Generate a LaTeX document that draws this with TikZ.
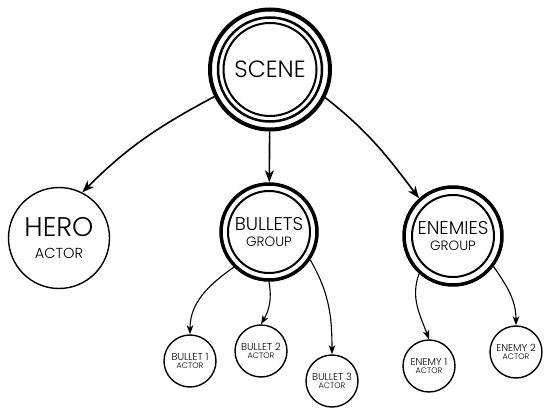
\documentclass[tikz,border=0pt]{standalone}
\usepackage{fontspec}
\IfFontExistsTF{Poppins Light}{\setmainfont{Poppins Light}}{\setmainfont{Poppins}}
\usetikzlibrary{arrows.meta}
\tikzstyle{arrow} = [line width=1.6pt, ->, >={Stealth[length=12pt, width=9pt, inset=3.5pt]}]
\tikzstyle{subarrow} = [line width=1.1pt, ->, >={Stealth[length=9pt, width=6.5pt, inset=2.5pt]}]
\newcommand{\kind}[2]{{\fontsize{#1}{#1}\selectfont #2}}

\begin{document}
\begin{tikzpicture}[x=1pt, y=1pt,
            actor/.style={circle, draw=black, line width=1.4pt, inner sep=0pt, align=center},
            group/.style={circle, draw=black, line width=3.5pt, inner sep=0pt, align=center, minimum size=96pt, font=\fontsize{18.5}{16.7}\selectfont},
            small/.style={actor, minimum size=52pt, font=\fontsize{10}{8.5}\selectfont}]
            \useasboundingbox (0,0) rectangle (552,413);

            % Scene root
            \node[circle, draw=black, line width=4pt, minimum size=120pt, inner sep=0pt, font=\fontsize{23.5}{23.5}\selectfont] (scene) at (270,343.5) {SCENE};
            \draw[line width=2.5pt] (scene.center) circle (52);
            \draw[line width=2pt] (scene.center) circle (46.5);

            % Children of the scene
            \node[actor, minimum size=101pt, font=\fontsize{27}{23.4}\selectfont] (hero) at (59,175) {HERO\\[-1pt]\kind{14.5}{ACTOR}};
            \node[group] (bullets) at (269,181) {BULLETS\\\kind{13.5}{GROUP}};
            \draw[line width=2pt] (bullets.center) circle (41);
            \node[group, minimum size=98pt] (enemies) at (453,177) {ENEMIES\\\kind{13.5}{GROUP}};
            \draw[line width=2pt] (enemies.center) circle (41);

            % Actors in the groups
            \node[small] (bullet1) at (190,52) {BULLET 1\\\kind{8}{ACTOR}};
            \node[small] (bullet2) at (261,62) {BULLET 2\\\kind{8}{ACTOR}};
            \node[small] (bullet3) at (332,32) {BULLET 3\\\kind{8}{ACTOR}};
            \node[small] (enemy1) at (429,47) {ENEMY 1\\\kind{8}{ACTOR}};
            \node[small] (enemy2) at (516,61) {ENEMY 2\\\kind{8}{ACTOR}};

            % Arrows
            \draw[arrow] (scene.206) to[out=208, in=45] (hero.63);
            \draw[arrow] (scene) -- (bullets);
            \draw[arrow] (scene.-27) to[out=-38, in=127] (enemies.132);
            \draw[subarrow] (bullets.225) to[out=215, in=90] (bullet1);
            \draw[subarrow] (bullets.south) to[out=-80, in=60] (bullet2.north);
            \draw[subarrow] (bullets.-34) to[out=-60, in=90] (bullet3);
            \draw[subarrow] (enemies.228) to[out=250, in=110] (enemy1.north);
            \draw[subarrow] (enemies.-37) to[out=-55, in=90] (enemy2);
        \end{tikzpicture}
\end{document}
